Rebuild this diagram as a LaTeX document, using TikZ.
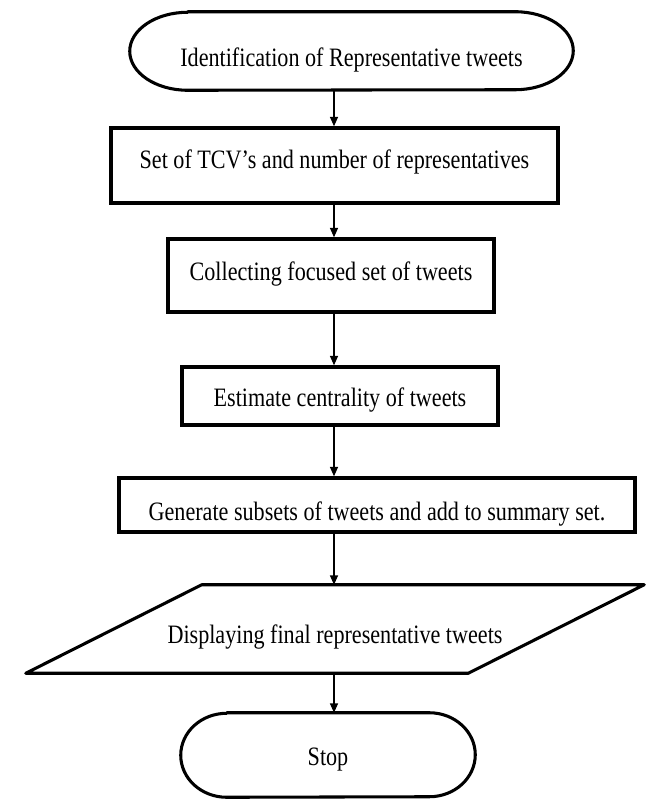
\documentclass[tikz,border=0pt]{standalone}
\usepackage{fontspec}
\setmainfont{Liberation Serif}
\usetikzlibrary{arrows.meta}
\newcommand{\tall}[1]{\scalebox{1}[1.2]{#1}}
\tikzset{
  txt/.style={inner sep=0pt, font=\fontsize{16.6}{20}\selectfont, text depth=4pt},
  box/.style={txt, draw, line width=2.6pt},
  edge/.style={line width=2.3pt, line join=round},
  flow/.style={-{Triangle[length=7pt,width=6pt]}, line width=0.9pt},
}
\begin{document}
\begin{tikzpicture}[x=0.75pt, y=-0.75pt]
  \useasboundingbox (0,0) rectangle (657,799);
  \coordinate (axis) at (334,0);

  % terminal at the top
  \node[txt, minimum width=332.25pt, minimum height=58.5pt, text height=27.7pt] (start) at (351.5,51)
    {\tall{Identification of Representative tweets}};
  \draw[edge] ([xshift=43.5pt]start.north west) -- ([xshift=-43.5pt]start.north east)
    arc[start angle=90, end angle=-90, x radius=43.5pt, y radius=29.25pt]
    -- ([xshift=43.5pt]start.south west)
    arc[start angle=270, end angle=90, x radius=43.5pt, y radius=29.25pt] -- cycle;

  \node[box, minimum width=335.25pt, minimum height=56.25pt, text height=9pt] (tcv) at (334.5,165.5)
    {\tall{Set of TCV’s and number of representatives}};
  \node[box, minimum width=244.5pt, minimum height=54.75pt, text height=12pt] (collect) at (331,275.5)
    {\tall{Collecting focused set of tweets}};
  \node[box, minimum width=237pt, minimum height=43.5pt, text height=20.2pt] (central) at (340,396)
    {\tall{Estimate centrality of tweets}};
  \node[box, minimum width=387pt, minimum height=40.5pt, text height=27.7pt] (subsets) at (377,505)
    {\tall{Generate subsets of tweets and add to summary set.}};

  % output
  \node[txt, minimum width=463.5pt, minimum height=66pt, text height=26.2pt] (display) at (335,629)
    {\tall{Displaying final representative tweets}};
  \draw[edge] ([xshift=132pt]display.north west) -- (display.north east)
    -- ([xshift=-132pt]display.south east) -- (display.south west) -- cycle;

  % terminal at the bottom
  \node[txt, minimum width=220.5pt, minimum height=63pt, text height=20.2pt] (stop) at (328,755)
    {\tall{Stop}};
  \draw[edge] ([xshift=34.5pt]stop.north west) -- ([xshift=-34.5pt]stop.north east)
    arc[start angle=90, end angle=-90, x radius=34.5pt, y radius=31.5pt]
    -- ([xshift=34.5pt]stop.south west)
    arc[start angle=270, end angle=90, x radius=34.5pt, y radius=31.5pt] -- cycle;

  \draw[flow] (start.south -| axis) -- (tcv.north -| axis);
  \draw[flow] (tcv.south -| axis) -- (collect.north -| axis);
  \draw[flow] (collect.south -| axis) -- (central.north -| axis);
  \draw[flow] (central.south -| axis) -- (subsets.north -| axis);
  \draw[flow] (subsets.south -| axis) -- (display.north -| axis);
  \draw[flow] (display.south -| axis) -- (stop.north -| axis);
\end{tikzpicture}
\end{document}
